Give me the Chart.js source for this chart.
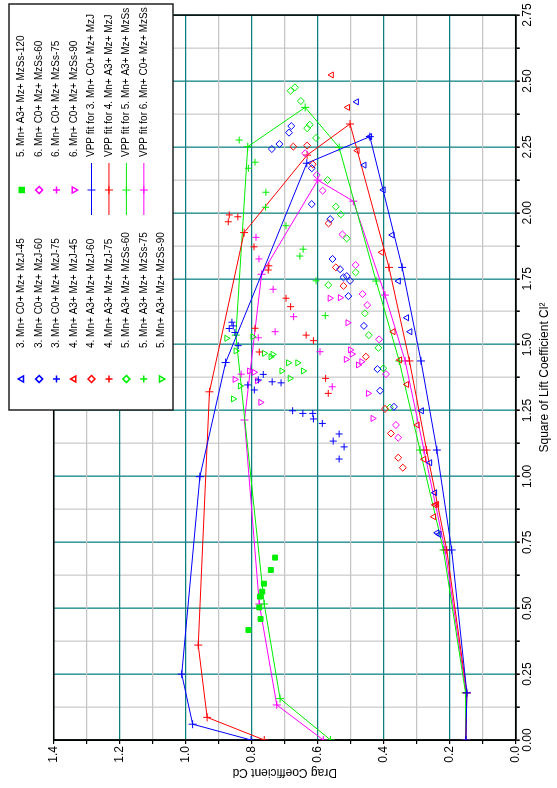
<!DOCTYPE html>
<html>
<head>
<meta charset="utf-8">
<script src="https://cdn.jsdelivr.net/npm/chart.js@4.4.1/dist/chart.umd.min.js"></script>
<style>
  html, body { margin: 0; padding: 0; background: #fff; overflow: hidden; }
  /* chart is laid out landscape and turned a quarter turn */
  #wrap { position: absolute; left: 0; top: 0; width: 788px; height: 557px;
          transform-origin: 0 0; transform: translate(0, 788px) rotate(-90deg); }
</style>
</head>
<body>
<div id="wrap"><canvas id="polar-chart" width="788" height="557"></canvas></div>
<script>
// Measured points as [Cl², Cd]
const c0J45 = [[2.421,0.482],[2.289,0.442],[2.181,0.459],[2.087,0.401],[1.916,0.374],[1.741,0.355],[1.602,0.330],[1.549,0.320],[1.249,0.285],[1.052,0.260],[0.938,0.245],[0.786,0.238],[0.780,0.232]];
const c0J60 = [[2.329,0.680],[2.304,0.687],[2.261,0.716],[2.242,0.739],[2.169,0.618],[2.033,0.618],[1.976,0.562],[1.825,0.555],[1.786,0.532],[1.755,0.522],[1.760,0.512],[1.742,0.502],[1.684,0.507],[1.571,0.460],[1.407,0.419],[1.325,0.411],[1.264,0.369]];
const c0J75 = [[1.585,0.860],[1.571,0.856],[1.561,0.868],[1.546,0.851],[1.496,0.841],[1.387,0.765],[1.366,0.780],[1.359,0.738],[1.355,0.711],[1.347,0.812],[1.328,0.792],[1.249,0.676],[1.239,0.645],[1.239,0.615],[1.218,0.613],[1.201,0.586],[1.161,0.535],[1.134,0.553],[1.112,0.520],[1.066,0.535]];
const a3J45 = [[2.523,0.558],[2.400,0.509],[2.236,0.480],[1.850,0.406],[1.549,0.371],[1.442,0.351],[1.349,0.330],[1.195,0.298],[1.065,0.278],[0.892,0.245],[0.894,0.239],[0.847,0.248]];
const a3J60 = [[2.251,0.674],[2.255,0.632],[2.184,0.615],[1.960,0.567],[1.793,0.545],[1.723,0.522],[1.454,0.454],[1.256,0.396],[1.163,0.378],[1.071,0.356],[1.033,0.342]];
const a3J75 = [[1.992,0.868],[1.966,0.871],[1.985,0.842],[1.871,0.793],[1.799,0.748],[1.783,0.750],[1.676,0.696],[1.644,0.682],[1.562,0.790],[1.536,0.635],[1.515,0.613],[1.472,0.777],[1.372,0.576],[1.315,0.568]];
const a3Ss60 = [[2.463,0.682],[2.476,0.669],[2.424,0.651],[2.334,0.624],[2.321,0.632],[2.284,0.605],[2.124,0.570],[2.023,0.545],[1.994,0.530],[1.903,0.512],[1.774,0.485],[1.726,0.568],[1.619,0.457],[1.536,0.445],[1.488,0.416],[1.410,0.401],[1.261,0.381]];
const a3Ss75 = [[2.276,0.838],[2.192,0.790],[2.169,0.810],[2.078,0.757],[2.021,0.758],[1.951,0.696],[1.862,0.644],[1.836,0.654],[1.742,0.605],[1.610,0.577]];
const a3Ss90 = [[1.524,0.876],[1.530,0.797],[1.476,0.848],[1.467,0.762],[1.454,0.742],[1.463,0.736],[1.431,0.689],[1.431,0.661],[1.400,0.709],[1.400,0.644],[1.372,0.684],[1.343,0.835],[1.294,0.856]];
const a3Ss120 = [[0.692,0.729],[0.645,0.742],[0.593,0.763],[0.563,0.768],[0.544,0.775],[0.503,0.777],[0.459,0.773],[0.417,0.810]];
const c0Ss60 = [[2.226,0.638],[2.143,0.603],[2.084,0.585],[1.918,0.525],[1.802,0.485],[1.692,0.464],[1.650,0.450],[1.520,0.414],[1.388,0.393],[1.195,0.363],[1.147,0.356]];
const c0Ss75 = [[1.907,0.787],[1.825,0.778],[1.710,0.735],[1.606,0.673],[1.549,0.729],[1.526,0.780],[1.473,0.593],[1.388,0.832],[1.340,0.556]];
const c0Ss90 = [[1.676,0.563],[1.678,0.532],[1.583,0.509],[1.480,0.501],[1.464,0.496],[1.444,0.514],[1.435,0.467],[1.423,0.477],[1.400,0.807],[1.395,0.793],[1.368,0.851],[1.363,0.783],[1.281,0.773],[1.315,0.447],[1.220,0.433]];

// VPP polar fits, traced from the high-drag branch over the top and back down
const fit3 = [[0,0.802],[0.060,0.979],[0.250,1.012],[0.999,0.957],[1.432,0.879],[2.188,0.633],[2.289,0.442],[1.793,0.344],[1.438,0.287],[1.100,0.239],[0.721,0.194],[0.179,0.148],[0,0.151]];
const fit4 = [[0,0.762],[0.086,0.935],[0.360,0.962],[1.321,0.928],[1.925,0.823],[2.219,0.632],[2.337,0.502],[1.793,0.384],[1.438,0.322],[1.100,0.270],[0.721,0.209],[0.179,0.148],[0,0.151]];
const fit5 = [[0,0.561],[0.157,0.714],[0.516,0.762],[1.536,0.848],[2.251,0.812],[2.400,0.638],[2.248,0.535],[1.741,0.423],[1.438,0.353],[1.100,0.290],[0.721,0.219],[0.179,0.152],[0,0.151]];
const fit6 = [[0,0.583],[0.133,0.724],[0.516,0.777],[1.214,0.822],[1.767,0.770],[2.124,0.600],[2.044,0.492],[1.688,0.396],[1.438,0.335],[1.100,0.278],[0.721,0.214],[0.179,0.150],[0,0.151]];

const BLUE = '#0000ff', RED = '#ff0000', GREEN = '#00ee00', MAGENTA = '#ff00ff';

function pts(arr) {
    return arr.map(p => ({ x: p[0], y: p[1] }));
}

function marks(label, arr, color, style, rotation, filled) {
    return {
        label: label,
        data: pts(arr),
        showLine: false,
        pointStyle: style,
        rotation: rotation || 0,
        pointRadius: style === 'rect' ? 3.5 : 3.5,
        pointBorderWidth: 1,
        pointBorderColor: color,
        pointBackgroundColor: filled ? color : 'rgba(0,0,0,0)',
        borderColor: color,
        backgroundColor: filled ? color : 'rgba(0,0,0,0)'
    };
}

function fit(label, arr, color) {
    return {
        label: label,
        data: pts(arr),
        showLine: true,
        borderColor: color,
        borderWidth: 1,
        pointStyle: 'cross',
        pointRadius: 4,
        pointBorderWidth: 1,
        pointBorderColor: color,
        pointBackgroundColor: color,
        backgroundColor: color,
        tension: 0
    };
}

const datasets = [
    marks('3. Mn+ C0+ Mz+ MzJ-45', c0J45, BLUE, 'triangle', 0),
    marks('3. Mn+ C0+ Mz+ MzJ-60', c0J60, BLUE, 'rectRot', 0),
    marks('3. Mn+ C0+ Mz+ MzJ-75', c0J75, BLUE, 'cross', 0),
    marks('4. Mn+ A3+ Mz+ MzJ-45', a3J45, RED, 'triangle', 0),
    marks('4. Mn+ A3+ Mz+ MzJ-60', a3J60, RED, 'rectRot', 0),
    marks('4. Mn+ A3+ Mz+ MzJ-75', a3J75, RED, 'cross', 0),
    marks('5. Mn+ A3+ Mz+ MzSs-60', a3Ss60, GREEN, 'rectRot', 0),
    marks('5. Mn+ A3+ Mz+ MzSs-75', a3Ss75, GREEN, 'cross', 0),
    marks('5. Mn+ A3+ Mz+ MzSs-90', a3Ss90, GREEN, 'triangle', 180),
    marks('5. Mn+ A3+ Mz+ MzSs-120', a3Ss120, GREEN, 'rect', 0, true),
    marks('6. Mn+ C0+ Mz+ MzSs-60', c0Ss60, MAGENTA, 'rectRot', 0),
    marks('6. Mn+ C0+ Mz+ MzSs-75', c0Ss75, MAGENTA, 'cross', 0),
    marks('6. Mn+ C0+ Mz+ MzSs-90', c0Ss90, MAGENTA, 'triangle', 180),
    fit('VPP fit for 3. Mn+ C0+ Mz+ MzJ', fit3, BLUE),
    fit('VPP fit for 4. Mn+ A3+ Mz+ MzJ', fit4, RED),
    fit('VPP fit for 5. Mn+ A3+ Mz+ MzSs', fit5, GREEN),
    fit('VPP fit for 6. Mn+ C0+ Mz+ MzSs', fit6, MAGENTA)
];

function isMajor(v, step) {
    const r = v / step;
    return Math.abs(r - Math.round(r)) < 1e-6;
}

// black frame round the whole plot area
const frame = {
    id: 'frame',
    beforeDatasetsDraw(chart) {
        const a = chart.chartArea, ctx = chart.ctx;
        ctx.save();
        ctx.strokeStyle = '#000';
        ctx.lineWidth = 1.5;
        ctx.strokeRect(a.left, a.top, a.right - a.left, a.bottom - a.top);
        ctx.restore();
    }
};

// two-column boxed legend drawn over the top right corner
const legendBox = {
    id: 'legendBox',
    afterDraw(chart) {
        const ctx = chart.ctx;
        ctx.save();
        ctx.fillStyle = '#fff';
        ctx.fillRect(378, 9, 406, 164);
        ctx.strokeStyle = '#222';
        ctx.lineWidth = 1.5;
        ctx.strokeRect(378, 9, 406, 164);
        ctx.font = '10px "Liberation Sans", Arial, sans-serif';
        ctx.textBaseline = 'middle';
        chart.data.datasets.forEach((ds, i) => {
            const col = i < 9 ? 0 : 1;
            const row = col ? i - 9 : i;
            const y = 21.7 + row * 17.45;
            const mx = col ? 598 : 409;
            const tx = col ? 631 : 440;
            if (ds.showLine) {
                ctx.strokeStyle = ds.borderColor;
                ctx.lineWidth = 1;
                ctx.beginPath();
                ctx.moveTo(mx - 25, y);
                ctx.lineTo(mx + 27, y);
                ctx.stroke();
            }
            ctx.strokeStyle = ds.pointBorderColor;
            ctx.fillStyle = ds.pointBackgroundColor;
            Chart.helpers.drawPoint(ctx, {
                pointStyle: ds.pointStyle,
                rotation: ds.rotation || 0,
                radius: ds.showLine ? 4 : 3.5,
                borderWidth: 1
            }, mx, y);
            ctx.fillStyle = '#000';
            ctx.fillText(ds.label, tx, y);
        });
        ctx.restore();
    }
};

Chart.defaults.font.family = '"Liberation Sans", Arial, sans-serif';
Chart.defaults.font.size = 12;
Chart.defaults.color = '#000';

new Chart(document.getElementById('polar-chart'), {
    type: 'scatter',
    data: { datasets: datasets },
    options: {
        responsive: false,
        animation: false,
        layout: { padding: { top: 53.7, right: 15.1, bottom: 0, left: 0 } },
        plugins: {
            legend: { display: false },
            tooltip: { enabled: false }
        },
        scales: {
            x: {
                type: 'linear',
                min: 0,
                max: 2.75,
                afterFit(s) { s.height = 41.3; },
                ticks: {
                    stepSize: 0.125,
                    autoSkip: false,
                    maxRotation: 0,
                    padding: 1,
                    color: '#000',
                    callback: v => isMajor(v, 0.25) ? v.toFixed(2) : ''
                },
                grid: {
                    color: c => (c.tick && isMajor(c.tick.value, 0.25)) ? '#3f9b9b' : '#d6d6d6',
                    lineWidth: 1.6,
                    tickLength: 4,
                    tickColor: '#000'
                },
                border: { color: '#000', width: 1.5 },
                title: {
                    display: true,
                    text: 'Square of Lift Coefficient Cl²',
                    color: '#000',
                    padding: { top: 0, bottom: 5 }
                }
            },
            y: {
                type: 'linear',
                min: 0,
                max: 1.4,
                afterFit(s) { s.width = 48; },
                ticks: {
                    stepSize: 0.1,
                    autoSkip: false,
                    padding: 2,
                    color: '#000',
                    callback: v => isMajor(v, 0.2) ? v.toFixed(1) : ''
                },
                grid: {
                    color: c => (c.tick && isMajor(c.tick.value, 0.2)) ? '#0b7f7f' : '#c4c4c4',
                    lineWidth: 1.2,
                    tickLength: 4,
                    tickColor: '#000'
                },
                border: { color: '#000', width: 1.5 },
                title: {
                    display: true,
                    text: 'Drag Coefficient Cd',
                    color: '#000',
                    padding: { top: 8, bottom: 0 }
                }
            }
        }
    },
    plugins: [frame, legendBox]
});
</script>
</body>
</html>
